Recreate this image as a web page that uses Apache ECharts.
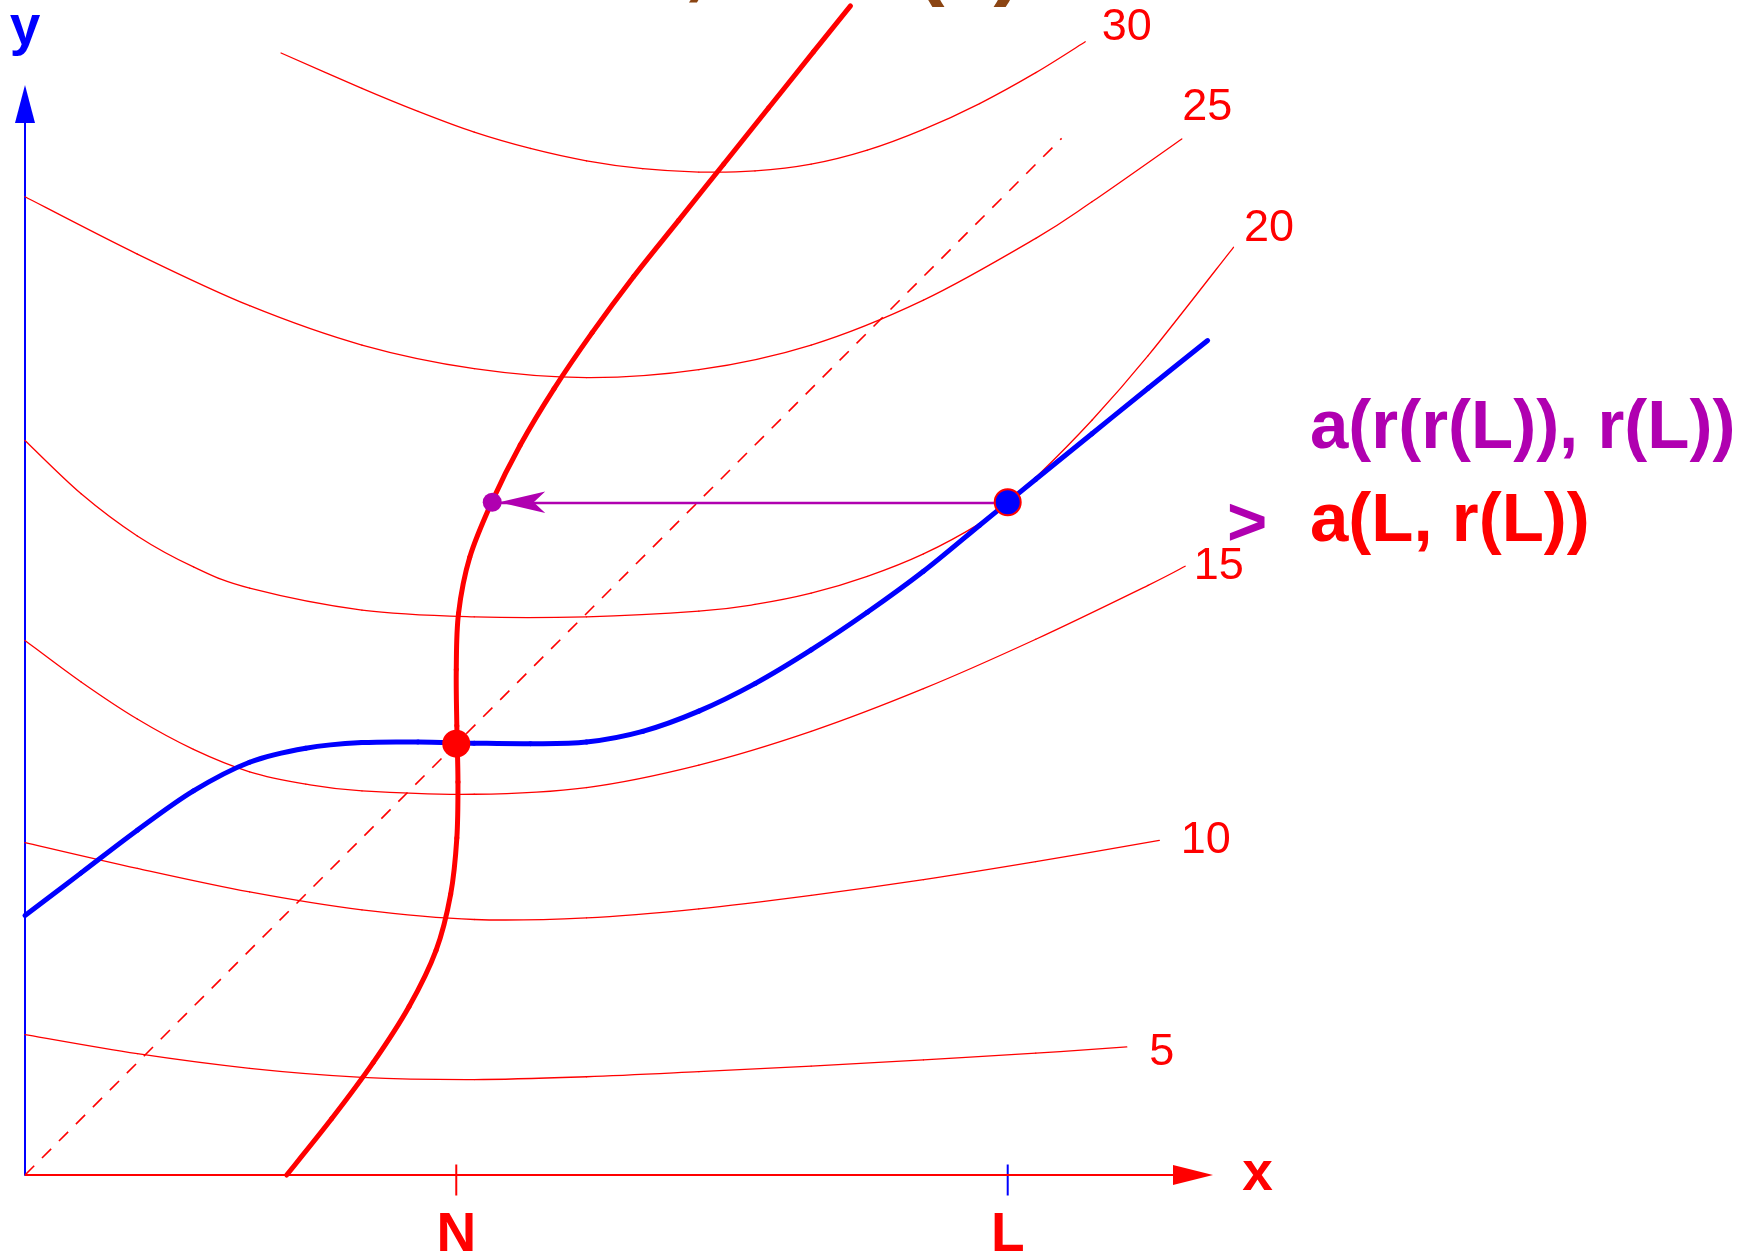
<!DOCTYPE html>
<html>
<head>
<meta charset="utf-8">
<script src="https://cdn.jsdelivr.net/npm/echarts@6/dist/echarts.min.js"></script>
<style>
  html, body { margin: 0; padding: 0; background: #ffffff; }
  #chart { width: 1761px; height: 1254px; }
</style>
</head>
<body>
<div id="chart"></div>
<script>
// ---- axis extents (plot units) ----
const X_MAX = 108.2;      // plot area reaches past the arrow so no curve is cut
const Y_MAX = 95.36;
const X_ARROW_END = 104.0; // where the drawn x axis (with its arrow) ends

// ---- marked positions on the x axis ----
const tickNames = ['N', 'L'];
const N = 38.4;
const L = 87.5;
const tickValues = [N, L];

// values
const rL = 59.9;    // r(L)
const rrL = 41.6;   // r(r(L))

// ---- indifference curves, one list of [x, y] per level ----
const levels = ['5', '10', '15', '20', '25', '30'];
const curve5 = [[0, 12.5], [10, 10.8], [20, 9.5], [30, 8.7], [40, 8.5], [50, 8.75], [60, 9.2],
  [70, 9.7], [80, 10.25], [90, 10.85], [98.1, 11.4]];
const curve10 = [[0, 29.6], [10, 27.3], [20, 25.2], [30, 23.6], [40, 22.75], [50, 22.9], [60, 23.7],
  [70, 24.9], [80, 26.3], [90, 27.9], [101.0, 29.8]];
const curve15 = [[0, 47.6], [5, 43.9], [10, 40.6], [15, 37.9], [20, 35.9], [25, 34.8], [30, 34.2],
  [40, 33.9], [50, 34.5], [60, 36.5], [70, 39.5], [80, 43.3], [90, 47.7], [100, 52.5], [103.3, 54.2]];
const curve20 = [[0, 65.4], [5, 60.65], [10, 56.9], [15, 54.15], [20, 52.25], [30, 50.3], [40, 49.7],
  [50, 49.7], [60, 50.2], [65, 50.8], [70, 51.8], [75, 53.3], [80, 55.3], [85, 58.0], [87.5, 59.9],
  [90, 62.1], [95, 67.2], [100, 72.95], [107.6, 82.6]];
const curve25 = [[0, 87.1], [10, 82.0], [20, 77.4], [30, 73.9], [40, 71.8], [50, 71.0], [60, 71.7],
  [70, 73.9], [80, 77.9], [90, 83.4], [95, 86.65], [103.0, 92.25]];
const curve30 = [[22.8, 99.9], [30, 96.75], [35, 94.7], [40, 92.85], [45, 91.4], [50, 90.3], [55, 89.6],
  [60, 89.3], [65, 89.4], [70, 90.0], [75, 91.25], [80, 93.1], [85, 95.4], [90, 98.15], [94.4, 100.9]];

// ---- reaction curve y = r(x) (blue) ----
const reactionY = [[0, 23.1], [5, 26.9], [10, 30.7], [15, 34.2], [20, 36.75], [25, 38.0], [30, 38.5],
  [35, 38.55], [40, 38.45], [45, 38.4], [50, 38.55], [55, 39.5], [60, 41.3], [65, 43.75], [70, 46.75],
  [75, 50.1], [80, 53.75], [85, 57.85], [87.5, 59.9], [90, 61.95], [95, 66.0], [100, 70.05], [105.3, 74.3]];

// ---- reaction curve x = r(y) (thick red), listed bottom to top ----
const reactionX = [[23.3, 0], [27.3, 5], [31.0, 10], [34.2, 15], [36.6, 20], [37.9, 25], [38.45, 30],
  [38.55, 35], [38.45, 40], [38.4, 45], [38.6, 50], [39.6, 55], [41.6, 60], [44.1, 65], [47.1, 70],
  [50.5, 75], [54.2, 80], [58.2, 85], [62.2, 90], [66.2, 95], [70.2, 100], [73.5, 104.1]];

// ---- 45 degree line ----
const diagonal = [[0, 0], [92.3, 92.3]];

// ---- text ----
const titleText = 'Reaction curve, x = r(x)';
const leftSide = 'a(r(r(L)), r(L))';
const rightSide = 'a(L, r(L))';
const relation = '>';

const RED = '#ff0000';
const BLUE = '#0000ff';
const PURPLE = '#b000b0';
const BROWN = '#8b4513';
const FONT = '"Liberation Sans", Arial, Helvetica, sans-serif';

const curves = [curve5, curve10, curve15, curve20, curve25, curve30];
// where each level number sits relative to the end of its curve (px)
const levelLabelOffsets = [[22, 6], [21, 0], [8, 0], [10, -19], [0, -31], [16, -14.5]];

// A smooth curve through the listed points: every segment is a cubic
// Bezier whose control points follow the neighbouring points (Catmull-Rom).
function smoothCurveSeries(name, points, stroke, width, z) {
  return {
    type: 'custom',
    name: name,
    coordinateSystem: 'cartesian2d',
    data: points,
    encode: { x: 0, y: 1 },
    clip: false,
    silent: true,
    z: z,
    renderItem: function (params, api) {
      const i = params.dataIndexInside;
      const n = params.dataInsideLength;
      if (i >= n - 1) {
        return { type: 'group', children: [] };
      }
      const at = function (k) {
        return api.coord([api.value(0, k), api.value(1, k)]);
      };
      const p0 = at(Math.max(i - 1, 0));
      const p1 = at(i);
      const p2 = at(i + 1);
      const p3 = at(Math.min(i + 2, n - 1));
      return {
        type: 'bezierCurve',
        shape: {
          x1: p1[0], y1: p1[1],
          x2: p2[0], y2: p2[1],
          cpx1: p1[0] + (p2[0] - p0[0]) / 6,
          cpy1: p1[1] + (p2[1] - p0[1]) / 6,
          cpx2: p2[0] - (p3[0] - p1[0]) / 6,
          cpy2: p2[1] - (p3[1] - p1[1]) / 6
        },
        style: { stroke: stroke, lineWidth: width, fill: null, lineCap: 'round' }
      };
    }
  };
}

const chart = echarts.init(document.getElementById('chart'), null, { renderer: 'canvas' });

const series = [];

// x axis drawn as a line with a triangular head
series.push({
  type: 'line',
  name: 'x axis',
  data: [],
  silent: true,
  z: 1,
  markLine: {
    silent: true,
    animation: false,
    symbol: 'none',
    symbolSize: 40,
    label: { show: false },
    emphasis: { disabled: true },
    lineStyle: { color: RED, width: 2, type: 'solid', opacity: 1 },
    data: [[
      { coord: [0, 0], symbol: 'none' },
      { coord: [X_ARROW_END, 0], symbol: 'triangle', symbolSize: [20, 40] }
    ]]
  }
});

curves.forEach(function (c, i) {
  series.push(smoothCurveSeries('level ' + levels[i], c, RED, 1.3, 2));
});

series.push({
  type: 'line',
  name: '45 degree line',
  data: diagonal,
  symbol: 'none',
  showSymbol: false,
  clip: false,
  silent: true,
  z: 2,
  lineStyle: { color: RED, width: 1.6, type: [13, 11] }
});

series.push(smoothCurveSeries('y = r(x)', reactionY, BLUE, 5, 3));
series.push(smoothCurveSeries('x = r(y)', reactionX, RED, 5, 3));

// level numbers at the right end of each indifference curve
series.push({
  type: 'scatter',
  name: 'levels',
  data: curves.map(function (c, i) {
    return { value: c[c.length - 1], label: { offset: levelLabelOffsets[i] } };
  }),
  symbolSize: 1,
  itemStyle: { color: 'rgba(0,0,0,0)', opacity: 1 },
  clip: false,
  silent: true,
  z: 4,
  label: {
    show: true,
    position: 'right',
    distance: 0,
    color: RED,
    opacity: 1,
    fontSize: 45,
    fontFamily: FONT,
    formatter: function (p) { return levels[p.dataIndex]; }
  }
});

// tick marks N and L
series.push({
  type: 'scatter',
  name: 'ticks',
  data: tickValues.map(function (v, i) {
    return { value: [v, 0], itemStyle: { color: i === 0 ? RED : BLUE, opacity: 1 } };
  }),
  symbol: 'rect',
  symbolSize: [2, 31],
  symbolOffset: [0, 5],
  clip: false,
  silent: true,
  z: 4,
  label: {
    show: true,
    position: 'bottom',
    distance: 13,
    color: RED,
    opacity: 1,
    fontSize: 55,
    fontWeight: 'bold',
    fontFamily: FONT,
    formatter: function (p) { return tickNames[p.dataIndex]; }
  }
});

// arrow from (L, r(L)) across to (r(r(L)), r(L))
series.push({
  type: 'line',
  name: 'step',
  data: [],
  silent: true,
  z: 5,
  markLine: {
    silent: true,
    animation: false,
    symbol: 'none',
    symbolSize: 44,
    label: { show: false },
    emphasis: { disabled: true },
    lineStyle: { color: PURPLE, width: 2.4, type: 'solid', opacity: 1 },
    data: [[
      { coord: [L, rL], symbol: 'none' },
      { coord: [rrL, rL], symbol: 'arrow', symbolSize: [16, 46], symbolOffset: [0, 7] }
    ]]
  }
});

// points: fixed point, (L, r(L)), (r(r(L)), r(L))
series.push({
  type: 'scatter',
  name: 'points',
  clip: false,
  silent: true,
  z: 6,
  data: [
    { value: [N, 38.4], symbolSize: 28, itemStyle: { color: RED, opacity: 1 } },
    { value: [L, rL], symbolSize: 26, itemStyle: { color: BLUE, borderColor: RED, borderWidth: 2, opacity: 1 } },
    { value: [rrL, rL], symbolSize: 19, itemStyle: { color: PURPLE, opacity: 1 } }
  ]
});

const option = {
  animation: false,
  backgroundColor: '#ffffff',
  textStyle: { fontFamily: FONT },
  grid: { left: 25, top: 104, width: X_MAX * 11.231, height: 1071, outerBoundsMode: 'none', containLabel: false },
  xAxis: {
    type: 'value',
    min: 0,
    max: X_MAX,
    name: 'x',
    nameLocation: 'end',
    nameGap: 2,
    nameTextStyle: { color: RED, fontSize: 55, fontWeight: 'bold', fontFamily: FONT, padding: [0, 0, 16, 0] },
    axisLine: { show: false },
    axisTick: { show: false },
    axisLabel: { show: false },
    splitLine: { show: false }
  },
  yAxis: {
    type: 'value',
    min: 0,
    max: Y_MAX,
    name: 'y',
    nameLocation: 'end',
    nameGap: 48,
    nameTextStyle: { color: BLUE, fontSize: 55, fontWeight: 'bold', fontFamily: FONT },
    axisLine: {
      show: true,
      onZero: false,
      symbol: ['none', 'triangle'],
      symbolSize: [20, 38],
      lineStyle: { color: BLUE, width: 2 }
    },
    axisTick: { show: false },
    axisLabel: { show: false },
    splitLine: { show: false }
  },
  graphic: [
    {
      type: 'text', x: 52, y: -35.5, silent: true,
      style: { text: titleText, fill: BROWN, fontSize: 88, fontWeight: 'bold', fontFamily: FONT, align: 'left', verticalAlign: 'middle' }
    },
    {
      type: 'text', x: 1310, y: 429, silent: true,
      style: { text: leftSide, fill: PURPLE, fontSize: 69, fontWeight: 'bold', fontFamily: FONT, align: 'left', verticalAlign: 'middle' }
    },
    {
      type: 'text', x: 1227, y: 526, silent: true,
      style: { text: relation, fill: PURPLE, fontSize: 69, fontWeight: 'bold', fontFamily: FONT, align: 'left', verticalAlign: 'middle' }
    },
    {
      type: 'text', x: 1310, y: 522, silent: true,
      style: { text: rightSide, fill: RED, fontSize: 69, fontWeight: 'bold', fontFamily: FONT, align: 'left', verticalAlign: 'middle' }
    }
  ],
  series: series
};

chart.setOption(option);
</script>
</body>
</html>
